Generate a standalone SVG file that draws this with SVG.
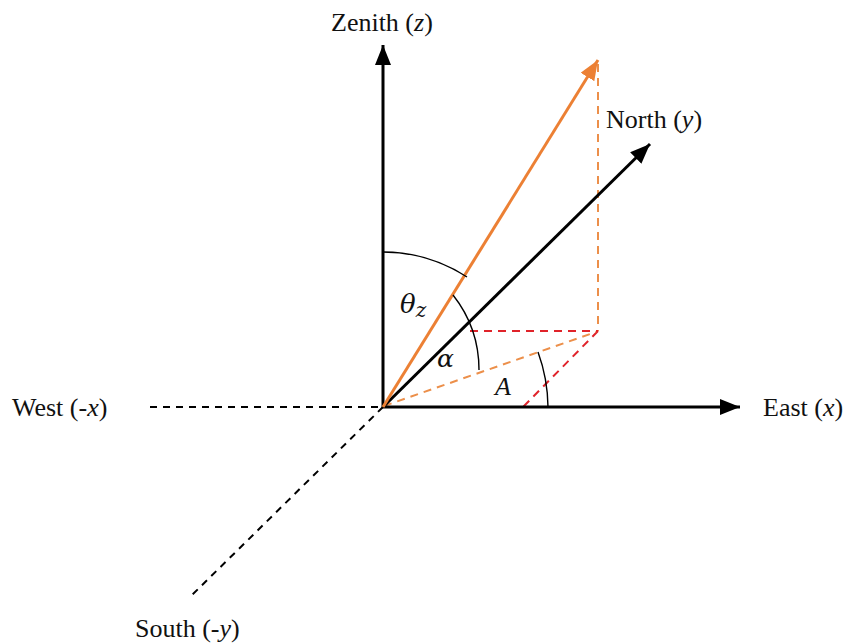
<svg xmlns="http://www.w3.org/2000/svg" width="848" height="644" viewBox="0 0 848 644">
<style>
.lbl{font-family:"Liberation Serif","Times New Roman",serif;font-size:26px;fill:#111}
.it{font-style:italic}
.gk{font-family:"DejaVu Serif",serif;font-style:italic;fill:#111}
.ax{stroke:#000;stroke-width:3;fill:none}
.dk{stroke:#000;stroke-width:2;stroke-dasharray:7,6;fill:none}
.sun{stroke:#EC8034;stroke-width:3;fill:none}
.od{stroke:#EC8F4A;stroke-width:2;stroke-dasharray:8,6;fill:none}
.rd{stroke:#E0232A;stroke-width:2;stroke-dasharray:8,6;fill:none}
.arc{stroke:#000;stroke-width:1.4;fill:none}
</style>
<defs>
<marker id="ab" markerWidth="20" markerHeight="16" viewBox="0 0 20 16" refX="20" refY="8" orient="auto" markerUnits="userSpaceOnUse">
<path d="M0,0 L20,8 L0,16 Z" fill="#000"/>
</marker>
<marker id="ao" markerWidth="20" markerHeight="16" viewBox="0 0 20 16" refX="20" refY="8" orient="auto" markerUnits="userSpaceOnUse">
<path d="M0,0 L20,8 L0,16 Z" fill="#EC8034"/>
</marker>
</defs>
<g id="connectors">
<line class="dk" x1="150" y1="407" x2="383" y2="407"/>
<line class="dk" x1="383" y1="407" x2="190" y2="597"/>
<line class="od" x1="598" y1="64" x2="598" y2="331"/>
<line class="rd" x1="470" y1="331" x2="598" y2="331"/>
<line class="rd" x1="598" y1="331" x2="523" y2="407"/>
<line class="od" x1="384" y1="406" x2="596" y2="332"/>
<line class="ax" x1="383" y1="408" x2="383" y2="45" marker-end="url(#ab)"/>
<line class="ax" x1="382" y1="407" x2="740" y2="407" marker-end="url(#ab)"/>
<line class="ax" x1="383" y1="407" x2="650" y2="144" marker-end="url(#ab)"/>
<line class="sun" x1="383" y1="407" x2="598" y2="60" marker-end="url(#ao)"/>
<path id="arc-theta" class="arc" d="M383,252 A155,155 0 0 1 467,277"/>
<path id="arc-alpha" class="arc" d="M453,295 A121,121 0 0 1 479,370"/>
<path id="arc-A" class="arc" d="M538,352 A165,165 0 0 1 548,407"/>
</g>
<g id="zenith"><text class="lbl" x="331" y="31">Zenith (<tspan class="it">z</tspan>)</text></g>
<g id="north"><text class="lbl" x="606" y="128">North (<tspan class="it">y</tspan>)</text></g>
<g id="east"><text class="lbl" x="763" y="416">East (<tspan class="it">x</tspan>)</text></g>
<g id="west"><text class="lbl" x="12" y="416">West (-<tspan class="it">x</tspan>)</text></g>
<g id="south"><text class="lbl" x="135" y="637">South (-<tspan class="it">y</tspan>)</text></g>
<g id="theta-z"><text class="gk" x="400" y="313" font-size="26">θ<tspan font-size="20" dy="4">z</tspan></text></g>
<g id="alpha"><text class="gk" x="437" y="367" font-size="25">α</text></g>
<g id="azimuth"><text class="lbl it" x="495" y="395" font-size="23">A</text></g>
</svg>
